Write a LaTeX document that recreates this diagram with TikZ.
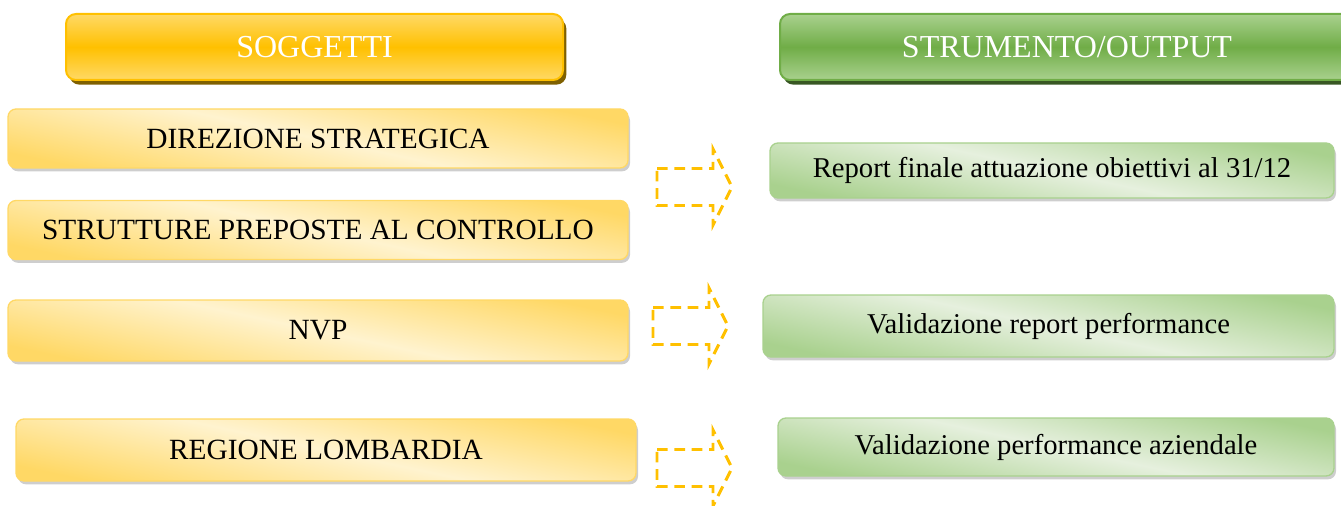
\documentclass[tikz,border=0pt]{standalone}
\usepackage{fontspec}
\setmainfont{Liberation Serif}
\usetikzlibrary{shadows}

\definecolor{hdrgold}{HTML}{FFC000}
\definecolor{hdrgoldlt}{HTML}{FFD966}
\definecolor{hdrgoldsh}{HTML}{7F6000}
\definecolor{hdrgreen}{HTML}{70AD47}
\definecolor{hdrgreenlt}{HTML}{A9D18E}
\definecolor{hdrgreensh}{HTML}{385723}
\definecolor{boxgold}{HTML}{FFD865}
\definecolor{boxgoldlt}{HTML}{FFF3CF}
\definecolor{boxgreen}{HTML}{A9D18E}
\definecolor{boxgreenlt}{HTML}{E6F0DE}

\tikzset{
  headbox/.style={rounded corners=7.5pt, line width=1.5pt, text=white,
    font=\fontsize{24}{28}\selectfont, minimum height=49.5pt},
  goldhead/.style={headbox, draw=hdrgold, top color=hdrgoldlt, bottom color=hdrgoldlt, middle color=hdrgold,
    drop shadow={shadow xshift=2.5pt, shadow yshift=-3.5pt, fill=hdrgoldsh, opacity=1}},
  greenhead/.style={headbox, draw=hdrgreen, top color=hdrgreenlt, bottom color=hdrgreenlt, middle color=hdrgreen,
    drop shadow={shadow xshift=2.5pt, shadow yshift=-3.5pt, fill=hdrgreensh, opacity=1}},
  goldbox/.style={rounded corners=6pt, line width=1pt, draw=boxgold,
    top color=boxgold, bottom color=boxgold, middle color=boxgoldlt, shading angle=-12,
    font=\fontsize{22}{26}\selectfont, minimum width=465pt,
    drop shadow={shadow xshift=1.5pt, shadow yshift=-2.5pt, fill=black!55, opacity=0.35}},
  greenbox/.style={rounded corners=6pt, line width=1pt, draw=boxgreen,
    top color=boxgreen, bottom color=boxgreen, middle color=boxgreenlt, shading angle=-12,
    font=\fontsize{21.5}{26}\selectfont,
    drop shadow={shadow xshift=1.5pt, shadow yshift=-2.5pt, fill=black!55, opacity=0.35}},
  flowarrow/.style={draw=hdrgold, line width=2.2pt, dash pattern=on 8pt off 5pt}
}

\begin{document}
\begin{tikzpicture}[x=0.75pt,y=0.75pt,yscale=-1,xscale=1]
\useasboundingbox (0,0) rectangle (1341,506);

% Headers
\node[goldhead, minimum width=372.75pt] (soggetti) at (314.5,47) {SOGGETTI};
\node[greenhead, minimum width=430.5pt] (strumento) at (1067,47) {STRUMENTO/OUTPUT};

% Soggetti
\node[goldbox, minimum height=44.25pt] (direzione) at (318,138.5) {DIREZIONE STRATEGICA};
\node[goldbox, minimum height=44.25pt] (strutture) at (318,230) {STRUTTURE PREPOSTE AL CONTROLLO};
\node[goldbox, minimum height=45.75pt] (nvp) at (318,330.5) {NVP};
\node[goldbox, minimum height=46.5pt] (regione) at (326,450) {REGIONE LOMBARDIA};

% Strumenti / output
\node[greenbox, minimum width=423pt, minimum height=41.25pt] (report) at (1052,170.5) {Report finale attuazione obiettivi al 31/12};
\node[greenbox, minimum width=428.25pt, minimum height=46.5pt] (valreport) at (1048.5,326) {Validazione report performance};
\node[greenbox, minimum width=417pt, minimum height=43.5pt] (valperf) at (1056,447) {Validazione performance aziendale};

% Dashed block arrows
\foreach \ax/\ay in {657/187, 653/326, 657/468}
  \draw[flowarrow] (\ax,\ay-18.5) -- ++(56,0) -- ++(0,-19.5) -- (\ax+75,\ay) -- (\ax+56,\ay+38)
    -- ++(0,-19.5) -- (\ax,\ay+18.5) -- cycle;

\end{tikzpicture}
\end{document}
